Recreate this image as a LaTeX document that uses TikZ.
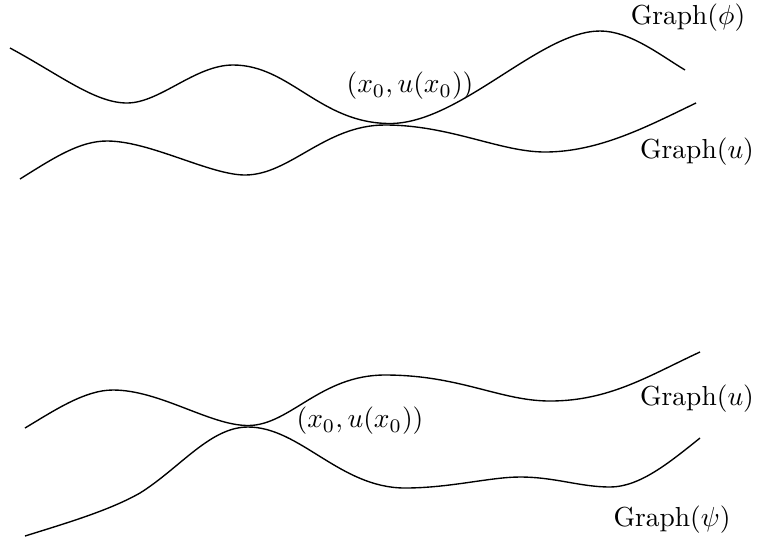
\documentclass[tikz,border=0pt]{standalone}
\begin{document}
\begin{tikzpicture}[x=0.3636pt,y=-0.3636pt,
  curve/.style={line width=0.5pt},
  lbl/.style={inner sep=0pt}]
\useasboundingbox (0,0) rectangle (760,539);
% top
\draw[curve] (10,48) .. controls (60,75) and (95,103) .. (127,103)
  .. controls (160,103) and (195,65) .. (233,65)
  .. controls (290,65) and (320,123.5) .. (390,123.5)
  .. controls (460,123.5) and (540,31) .. (600,31)
  .. controls (630,31) and (660,55) .. (685,70);
\draw[curve] (20,179) .. controls (55,157) and (80,141) .. (107,141)
  .. controls (150,141) and (210,175) .. (245,175)
  .. controls (290,175) and (325,125) .. (385,125)
  .. controls (450,125) and (500,152) .. (545,152)
  .. controls (600,152) and (650,125) .. (696,103);
\node[lbl] (phi) at (688,18) {Graph$(\phi)$};
\node[lbl] (p1) at (410,86) {$(x_0,u(x_0))$};
\node[lbl] (u1) at (697,152) {Graph$(u)$};
% bottom
\draw[curve] (25,428) .. controls (55,410) and (85,390) .. (113,390)
  .. controls (160,390) and (210,425.5) .. (248,425.5)
  .. controls (290,425.5) and (320,375) .. (385,375)
  .. controls (460,375) and (500,401) .. (550,401)
  .. controls (610,401) and (650,375) .. (700,352);
\draw[curve] (25,536) .. controls (70,522) and (110,510) .. (140,493)
  .. controls (180,468) and (210,427) .. (248,427)
  .. controls (300,427) and (340,488) .. (405,488)
  .. controls (450,488) and (490,477) .. (520,477)
  .. controls (555,477) and (580,487) .. (610,487)
  .. controls (640,487) and (670,462) .. (700,438);
\node[lbl] (u2) at (697,399) {Graph$(u)$};
\node[lbl] (p2) at (360,421) {$(x_0,u(x_0))$};
\node[lbl] (psi) at (672,520) {Graph$(\psi)$};
\end{tikzpicture}
\end{document}
